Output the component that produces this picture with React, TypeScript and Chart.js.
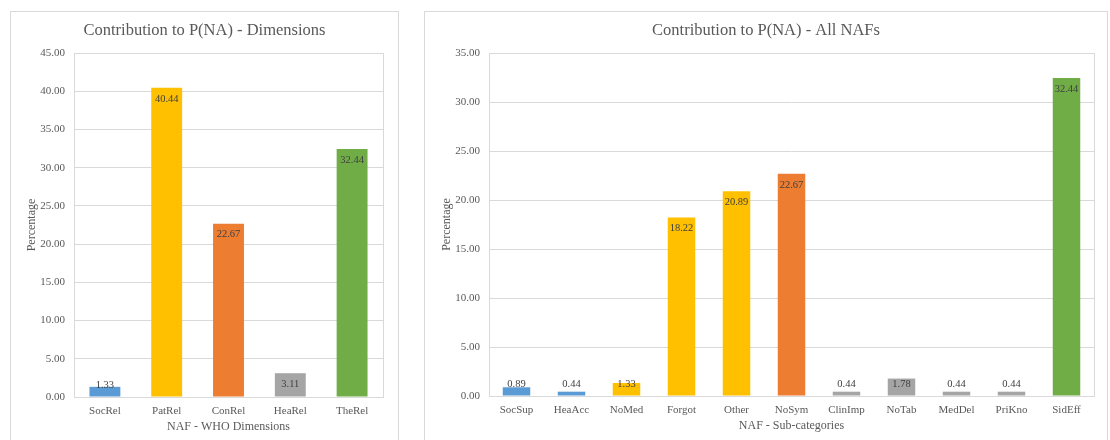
import React, { useEffect, useRef } from "react";
import { Chart, registerables } from "chart.js";

Chart.register(...registerables);

const dimCategories = ["SocRel", "PatRel", "ConRel", "HeaRel", "TheRel"];
const dimValues = [1.33, 40.44, 22.67, 3.11, 32.44];
const dimColors = ["#5B9BD5", "#FFC000", "#ED7D31", "#A5A5A5", "#70AD47"];

const nafCategories = ["SocSup", "HeaAcc", "NoMed", "Forgot", "Other", "NoSym", "ClinImp", "NoTab", "MedDel", "PriKno", "SidEff"];
const nafValues = [0.89, 0.44, 1.33, 18.22, 20.89, 22.67, 0.44, 1.78, 0.44, 0.44, 32.44];
const nafColors = ["#5B9BD5", "#5B9BD5", "#FFC000", "#FFC000", "#FFC000", "#ED7D31", "#A5A5A5", "#A5A5A5", "#A5A5A5", "#A5A5A5", "#70AD47"];

const FONT = "'Liberation Serif', 'Times New Roman', serif";
const TEXT = "#595959";
const GRID = "#d9d9d9";

const labelPlugin = {
  id: "barLabels",
  afterDatasetsDraw(chart: any) {
    const ctx = chart.ctx;
    const meta = chart.getDatasetMeta(0);
    const data = chart.data.datasets[0].data as number[];
    ctx.save();
    ctx.font = `10.5px ${FONT}`;
    ctx.fillStyle = "#404040";
    ctx.textAlign = "center";
    ctx.textBaseline = "middle";
    meta.data.forEach((el: any, i: number) => {
      const y = Math.min(el.y + 11, el.base - 11);
      ctx.fillText(data[i].toFixed(2), el.x, y);
    });
    ctx.restore();
  },
};

const borderPlugin = {
  id: "areaBorder",
  beforeDatasetsDraw(chart: any) {
    const { ctx, chartArea } = chart;
    ctx.save();
    ctx.strokeStyle = GRID;
    ctx.lineWidth = 1;
    ctx.strokeRect(
      Math.round(chartArea.left) + 0.5,
      Math.round(chartArea.top) + 0.5,
      Math.round(chartArea.right - chartArea.left),
      Math.round(chartArea.bottom - chartArea.top)
    );
    ctx.restore();
  },
};

type Cfg = {
  title: string;
  xTitle: string;
  labels: string[];
  values: number[];
  colors: string[];
  max: number;
  yWidth: number;
  xHeight: number;
  rightPad: number;
  yTitlePad: number;
  xTitlePad: number;
};

function BarChart({ cfg, width, height }: { cfg: Cfg; width: number; height: number }) {
  const ref = useRef<HTMLCanvasElement>(null);
  useEffect(() => {
    if (!ref.current) return;
    const chart = new Chart(ref.current, {
      type: "bar",
      data: {
        labels: cfg.labels,
        datasets: [
          {
            data: cfg.values,
            backgroundColor: cfg.colors,
            categoryPercentage: 1,
            barPercentage: 0.5,
          },
        ],
      },
      options: {
        animation: false,
        responsive: false,
        devicePixelRatio: 1,
        layout: { padding: 0 },
        plugins: {
          legend: { display: false },
          tooltip: { enabled: false },
          title: {
            display: true,
            text: cfg.title,
            color: TEXT,
            font: { family: FONT, size: 16.5, weight: "normal" },
            padding: { top: 8.6, bottom: 12.6 },
          },
        },
        scales: {
          x: {
            grid: { display: false, drawTicks: false },
            border: { display: false },
            ticks: { color: TEXT, font: { family: FONT, size: 11 }, padding: 8, maxRotation: 0, autoSkip: false },
            title: {
              display: true,
              text: cfg.xTitle,
              color: TEXT,
              font: { family: FONT, size: 12 },
              padding: { top: 0, bottom: cfg.xTitlePad },
            },
            afterFit(scale: any) {
              scale.height = cfg.xHeight;
            },
          },
          y: {
            min: 0,
            max: cfg.max,
            grid: { color: GRID, drawTicks: false },
            border: { display: false },
            ticks: {
              stepSize: 5,
              color: TEXT,
              font: { family: FONT, size: 11 },
              padding: 9,
              callback: (v: any) => Number(v).toFixed(2),
            },
            title: {
              display: true,
              text: "Percentage",
              color: TEXT,
              font: { family: FONT, size: 12 },
              padding: { top: cfg.yTitlePad, bottom: 0 },
            },
            afterFit(scale: any) {
              scale.width = cfg.yWidth;
            },
          },
          yPad: {
            position: "right",
            display: true,
            grid: { display: false, drawTicks: false },
            border: { display: false },
            ticks: { display: false },
            afterFit(scale: any) {
              scale.width = cfg.rightPad;
            },
          },
        },
      },
      plugins: [borderPlugin, labelPlugin],
    });
    return () => chart.destroy();
  }, []);
  return <canvas ref={ref} width={width} height={height} style={{ display: "block" }} />;
}

const leftCfg: Cfg = {
  title: "Contribution to P(NA) - Dimensions",
  xTitle: "NAF - WHO Dimensions",
  labels: dimCategories,
  values: dimValues,
  colors: dimColors,
  max: 45,
  yWidth: 63,
  xHeight: 43,
  rightPad: 15,
  yTitlePad: 13.5,
  xTitlePad: 6.3,
};

const rightCfg: Cfg = {
  title: "Contribution to P(NA) - All NAFs",
  xTitle: "NAF - Sub-categories",
  labels: nafCategories,
  values: nafValues,
  colors: nafColors,
  max: 35,
  yWidth: 64,
  xHeight: 44,
  rightPad: 13,
  yTitlePad: 14.5,
  xTitlePad: 7.3,
};

export default function App() {
  return (
    <div
      style={{
        position: "fixed",
        left: 0,
        top: 0,
        width: 1110,
        height: 440,
        background: "#fff",
        overflow: "hidden",
      }}
    >
      <div style={{ position: "absolute", left: 10, top: 11, width: 387, height: 428, border: `1px solid ${GRID}` }}>
        <BarChart cfg={leftCfg} width={387} height={428} />
      </div>
      <div style={{ position: "absolute", left: 424, top: 11, width: 682, height: 428, border: `1px solid ${GRID}` }}>
        <BarChart cfg={rightCfg} width={682} height={428} />
      </div>
    </div>
  );
}
